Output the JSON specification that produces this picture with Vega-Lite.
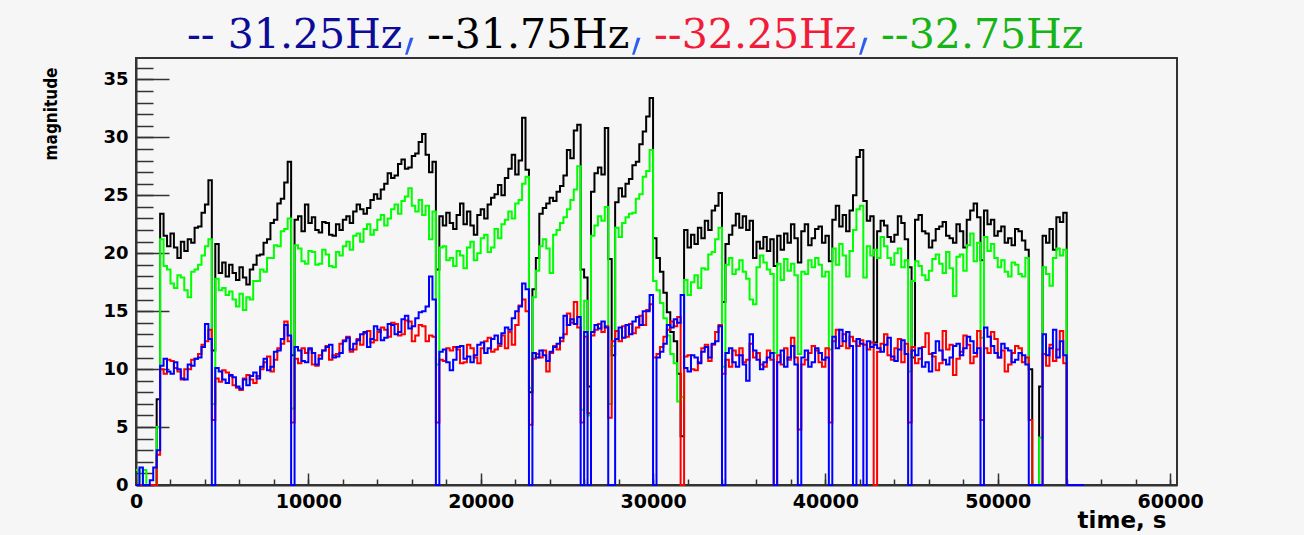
{
  "$schema": "https://vega.github.io/schema/vega-lite/v6.json",
  "description": "Magnitude of four spectral lines (31.25, 31.75, 32.25, 32.75 Hz) over time, drawn as step histograms.",
  "width": 1041,
  "height": 427,
  "autosize": {"type": "none"},
  "padding": {"left": 136, "top": 58, "right": 127, "bottom": 50},
  "background": "#f6f6f6",
  "data": {
    "values": [
      {"t": 0, "f31_25": 0, "f31_75": 0, "f32_25": 0, "f32_75": 1.3},
      {"t": 200, "f31_25": 1.5, "f31_75": 0, "f32_25": 0, "f32_75": 0},
      {"t": 400, "f31_25": 0, "f31_75": 0, "f32_25": 0, "f32_75": 1.3},
      {"t": 600, "f31_25": 0, "f31_75": 0, "f32_25": 0, "f32_75": 0},
      {"t": 800, "f31_25": 0.4, "f31_75": 0, "f32_25": 0, "f32_75": 0},
      {"t": 1000, "f31_25": 1.5, "f31_75": 0, "f32_25": 0, "f32_75": 0},
      {"t": 1200, "f31_25": 3.0, "f31_75": 7.4, "f32_25": 2.6, "f32_75": 5.0},
      {"t": 1400, "f31_25": 10.3, "f31_75": 23.4, "f32_25": 10.0, "f32_75": 21.2},
      {"t": 1600, "f31_25": 10.9, "f31_75": 21.5, "f32_25": 9.6, "f32_75": 18.9},
      {"t": 1800, "f31_25": 9.8, "f31_75": 20.6, "f32_25": 10.8, "f32_75": 18.6},
      {"t": 2000, "f31_25": 9.6, "f31_75": 21.7, "f32_25": 10.7, "f32_75": 17.4},
      {"t": 2200, "f31_25": 10.6, "f31_75": 20.5, "f32_25": 10.1, "f32_75": 17.0},
      {"t": 2400, "f31_25": 10.0, "f31_75": 19.6, "f32_25": 9.8, "f32_75": 18.1},
      {"t": 2600, "f31_25": 9.2, "f31_75": 21.0, "f32_25": 9.1, "f32_75": 17.9},
      {"t": 2800, "f31_25": 9.1, "f31_75": 20.2, "f32_25": 10.0, "f32_75": 16.8},
      {"t": 3000, "f31_25": 10.4, "f31_75": 21.2, "f32_25": 10.0, "f32_75": 16.2},
      {"t": 3200, "f31_25": 10.3, "f31_75": 20.9, "f32_25": 10.8, "f32_75": 18.4},
      {"t": 3400, "f31_25": 10.9, "f31_75": 22.2, "f32_25": 10.9, "f32_75": 18.6},
      {"t": 3600, "f31_25": 11.0, "f31_75": 22.3, "f32_25": 11.3, "f32_75": 19.0},
      {"t": 3800, "f31_25": 11.9, "f31_75": 23.5, "f32_25": 12.1, "f32_75": 19.8},
      {"t": 4000, "f31_25": 13.9, "f31_75": 24.2, "f32_25": 12.4, "f32_75": 20.6},
      {"t": 4200, "f31_25": 12.6, "f31_75": 26.3, "f32_25": 13.4, "f32_75": 21.2},
      {"t": 4400, "f31_25": 0, "f31_75": 11.6, "f32_25": 5.6, "f32_75": 7.0},
      {"t": 4600, "f31_25": 10.1, "f31_75": 20.8, "f32_25": 9.2, "f32_75": 17.8},
      {"t": 4800, "f31_25": 9.8, "f31_75": 18.3, "f32_25": 8.9, "f32_75": 16.8},
      {"t": 5000, "f31_25": 9.1, "f31_75": 19.2, "f32_25": 9.9, "f32_75": 17.0},
      {"t": 5200, "f31_25": 8.8, "f31_75": 18.0, "f32_25": 9.7, "f32_75": 16.4},
      {"t": 5400, "f31_25": 9.5, "f31_75": 19.0, "f32_25": 9.4, "f32_75": 16.7},
      {"t": 5600, "f31_25": 9.3, "f31_75": 18.3, "f32_25": 8.6, "f32_75": 16.0},
      {"t": 5800, "f31_25": 8.5, "f31_75": 17.7, "f32_25": 8.4, "f32_75": 15.4},
      {"t": 6000, "f31_25": 8.3, "f31_75": 18.8, "f32_25": 8.2, "f32_75": 16.5},
      {"t": 6200, "f31_25": 9.1, "f31_75": 17.9, "f32_25": 9.2, "f32_75": 15.1},
      {"t": 6400, "f31_25": 8.6, "f31_75": 17.3, "f32_25": 9.5, "f32_75": 16.2},
      {"t": 6600, "f31_25": 9.4, "f31_75": 18.6, "f32_25": 9.1, "f32_75": 16.0},
      {"t": 6800, "f31_25": 9.7, "f31_75": 19.0, "f32_25": 8.8, "f32_75": 17.6},
      {"t": 7000, "f31_25": 9.2, "f31_75": 19.8, "f32_25": 9.4, "f32_75": 17.6},
      {"t": 7200, "f31_25": 10.2, "f31_75": 19.9, "f32_25": 10.0, "f32_75": 18.6},
      {"t": 7400, "f31_25": 10.9, "f31_75": 20.9, "f32_25": 10.6, "f32_75": 18.4},
      {"t": 7600, "f31_25": 9.9, "f31_75": 21.2, "f32_25": 11.1, "f32_75": 19.6},
      {"t": 7800, "f31_25": 10.2, "f31_75": 22.6, "f32_25": 9.8, "f32_75": 19.6},
      {"t": 8000, "f31_25": 11.5, "f31_75": 22.9, "f32_25": 10.8, "f32_75": 20.7},
      {"t": 8200, "f31_25": 11.6, "f31_75": 24.3, "f32_25": 11.8, "f32_75": 20.6},
      {"t": 8400, "f31_25": 12.6, "f31_75": 24.7, "f32_25": 12.2, "f32_75": 21.9},
      {"t": 8600, "f31_25": 13.8, "f31_75": 26.1, "f32_25": 14.1, "f32_75": 22.1},
      {"t": 8800, "f31_25": 12.9, "f31_75": 27.9, "f32_25": 12.4, "f32_75": 23.0},
      {"t": 9000, "f31_25": 0, "f31_75": 11.2, "f32_25": 5.4, "f32_75": 6.6},
      {"t": 9200, "f31_25": 11.9, "f31_75": 22.9, "f32_25": 10.9, "f32_75": 20.7},
      {"t": 9400, "f31_25": 11.6, "f31_75": 23.2, "f32_25": 10.5, "f32_75": 20.4},
      {"t": 9600, "f31_25": 10.7, "f31_75": 21.9, "f32_25": 11.8, "f32_75": 19.3},
      {"t": 9800, "f31_25": 10.6, "f31_75": 24.2, "f32_25": 11.4, "f32_75": 19.1},
      {"t": 10000, "f31_25": 11.8, "f31_75": 22.6, "f32_25": 11.7, "f32_75": 20.2},
      {"t": 10200, "f31_25": 11.4, "f31_75": 23.1, "f32_25": 10.4, "f32_75": 20.1},
      {"t": 10400, "f31_25": 10.4, "f31_75": 22.0, "f32_25": 10.3, "f32_75": 19.0},
      {"t": 10600, "f31_25": 10.9, "f31_75": 21.8, "f32_25": 11.2, "f32_75": 19.1},
      {"t": 10800, "f31_25": 11.6, "f31_75": 22.7, "f32_25": 11.6, "f32_75": 20.3},
      {"t": 11000, "f31_25": 11.9, "f31_75": 22.6, "f32_25": 12.0, "f32_75": 19.9},
      {"t": 11200, "f31_25": 12.1, "f31_75": 21.6, "f32_25": 10.8, "f32_75": 18.9},
      {"t": 11400, "f31_25": 11.0, "f31_75": 21.5, "f32_25": 11.2, "f32_75": 18.8},
      {"t": 11600, "f31_25": 11.1, "f31_75": 22.5, "f32_25": 11.3, "f32_75": 20.1},
      {"t": 11800, "f31_25": 11.4, "f31_75": 22.0, "f32_25": 12.2, "f32_75": 19.8},
      {"t": 12000, "f31_25": 12.4, "f31_75": 22.9, "f32_25": 12.5, "f32_75": 20.6},
      {"t": 12200, "f31_25": 12.7, "f31_75": 23.2, "f32_25": 12.8, "f32_75": 21.0},
      {"t": 12400, "f31_25": 11.7, "f31_75": 22.6, "f32_25": 11.5, "f32_75": 20.3},
      {"t": 12600, "f31_25": 12.2, "f31_75": 23.6, "f32_25": 11.7, "f32_75": 21.5},
      {"t": 12800, "f31_25": 12.5, "f31_75": 24.2, "f32_25": 12.6, "f32_75": 21.7},
      {"t": 13000, "f31_25": 13.0, "f31_75": 23.8, "f32_25": 12.1, "f32_75": 21.0},
      {"t": 13200, "f31_25": 13.2, "f31_75": 23.4, "f32_25": 13.1, "f32_75": 22.1},
      {"t": 13400, "f31_25": 11.9, "f31_75": 23.9, "f32_25": 13.3, "f32_75": 22.5},
      {"t": 13600, "f31_25": 12.6, "f31_75": 24.6, "f32_25": 12.3, "f32_75": 21.6},
      {"t": 13800, "f31_25": 13.7, "f31_75": 25.1, "f32_25": 12.5, "f32_75": 22.0},
      {"t": 14000, "f31_25": 13.4, "f31_75": 24.7, "f32_25": 13.2, "f32_75": 22.9},
      {"t": 14200, "f31_25": 12.5, "f31_75": 25.5, "f32_25": 13.6, "f32_75": 23.3},
      {"t": 14400, "f31_25": 12.7, "f31_75": 26.0, "f32_25": 13.4, "f32_75": 22.4},
      {"t": 14600, "f31_25": 13.9, "f31_75": 26.9, "f32_25": 12.8, "f32_75": 23.0},
      {"t": 14800, "f31_25": 13.8, "f31_75": 26.5, "f32_25": 14.0, "f32_75": 23.8},
      {"t": 15000, "f31_25": 13.0, "f31_75": 26.7, "f32_25": 13.9, "f32_75": 24.2},
      {"t": 15200, "f31_25": 13.2, "f31_75": 27.7, "f32_25": 12.9, "f32_75": 23.4},
      {"t": 15400, "f31_25": 14.3, "f31_75": 28.1, "f32_25": 13.0, "f32_75": 24.5},
      {"t": 15600, "f31_25": 14.6, "f31_75": 27.3, "f32_25": 14.2, "f32_75": 24.9},
      {"t": 15800, "f31_25": 13.5, "f31_75": 27.4, "f32_25": 14.1, "f32_75": 25.6},
      {"t": 16000, "f31_25": 13.7, "f31_75": 28.4, "f32_25": 12.4, "f32_75": 24.1},
      {"t": 16200, "f31_25": 14.4, "f31_75": 28.6, "f32_25": 12.9, "f32_75": 23.6},
      {"t": 16400, "f31_25": 14.9, "f31_75": 29.6, "f32_25": 13.8, "f32_75": 24.6},
      {"t": 16600, "f31_25": 15.0, "f31_75": 30.3, "f32_25": 13.7, "f32_75": 23.3},
      {"t": 16800, "f31_25": 15.4, "f31_75": 28.5, "f32_25": 12.4, "f32_75": 24.1},
      {"t": 17000, "f31_25": 18.0, "f31_75": 27.0, "f32_25": 12.9, "f32_75": 21.2},
      {"t": 17200, "f31_25": 16.0, "f31_75": 27.9, "f32_25": 12.8, "f32_75": 23.6},
      {"t": 17400, "f31_25": 0, "f31_75": 18.6, "f32_25": 5.4, "f32_75": 10.4},
      {"t": 17600, "f31_25": 11.5, "f31_75": 23.2, "f32_25": 10.8, "f32_75": 20.5},
      {"t": 17800, "f31_25": 11.7, "f31_75": 22.4, "f32_25": 10.7, "f32_75": 20.6},
      {"t": 18000, "f31_25": 10.6, "f31_75": 23.5, "f32_25": 11.8, "f32_75": 19.4},
      {"t": 18200, "f31_25": 9.9, "f31_75": 22.6, "f32_25": 11.6, "f32_75": 19.6},
      {"t": 18400, "f31_25": 10.8, "f31_75": 22.1, "f32_25": 11.9, "f32_75": 18.9},
      {"t": 18600, "f31_25": 11.9, "f31_75": 23.3, "f32_25": 11.7, "f32_75": 20.2},
      {"t": 18800, "f31_25": 12.0, "f31_75": 24.3, "f32_25": 10.5, "f32_75": 19.8},
      {"t": 19000, "f31_25": 10.9, "f31_75": 22.5, "f32_25": 10.6, "f32_75": 18.7},
      {"t": 19200, "f31_25": 11.1, "f31_75": 23.6, "f32_25": 12.1, "f32_75": 20.5},
      {"t": 19400, "f31_25": 10.6, "f31_75": 22.4, "f32_25": 11.8, "f32_75": 21.0},
      {"t": 19600, "f31_25": 11.2, "f31_75": 21.6, "f32_25": 11.0, "f32_75": 19.4},
      {"t": 19800, "f31_25": 12.1, "f31_75": 23.3, "f32_25": 10.5, "f32_75": 20.0},
      {"t": 20000, "f31_25": 12.3, "f31_75": 23.8, "f32_25": 11.8, "f32_75": 21.3},
      {"t": 20200, "f31_25": 11.4, "f31_75": 23.0, "f32_25": 12.4, "f32_75": 21.6},
      {"t": 20400, "f31_25": 11.8, "f31_75": 24.2, "f32_25": 12.7, "f32_75": 20.1},
      {"t": 20600, "f31_25": 12.6, "f31_75": 24.8, "f32_25": 11.5, "f32_75": 20.5},
      {"t": 20800, "f31_25": 12.9, "f31_75": 25.1, "f32_25": 11.7, "f32_75": 22.1},
      {"t": 21000, "f31_25": 12.2, "f31_75": 25.9, "f32_25": 12.0, "f32_75": 21.3},
      {"t": 21200, "f31_25": 13.1, "f31_75": 25.0, "f32_25": 12.9, "f32_75": 22.5},
      {"t": 21400, "f31_25": 13.6, "f31_75": 26.5, "f32_25": 11.8, "f32_75": 22.9},
      {"t": 21600, "f31_25": 13.4, "f31_75": 27.3, "f32_25": 13.2, "f32_75": 23.6},
      {"t": 21800, "f31_25": 14.4, "f31_75": 28.5, "f32_25": 12.1, "f32_75": 23.0},
      {"t": 22000, "f31_25": 15.0, "f31_75": 26.8, "f32_25": 13.8, "f32_75": 24.3},
      {"t": 22200, "f31_25": 15.4, "f31_75": 28.0, "f32_25": 15.5, "f32_75": 24.6},
      {"t": 22400, "f31_25": 17.4, "f31_75": 31.7, "f32_25": 16.0, "f32_75": 26.0},
      {"t": 22600, "f31_25": 16.9, "f31_75": 27.2, "f32_25": 15.0, "f32_75": 26.6},
      {"t": 22800, "f31_25": 0, "f31_75": 8.0, "f32_25": 5.2, "f32_75": 8.4},
      {"t": 23000, "f31_25": 11.4, "f31_75": 16.9, "f32_25": 10.9, "f32_75": 16.2},
      {"t": 23200, "f31_25": 11.0, "f31_75": 19.6, "f32_25": 11.3, "f32_75": 18.5},
      {"t": 23400, "f31_25": 11.6, "f31_75": 23.4, "f32_25": 11.0, "f32_75": 20.6},
      {"t": 23600, "f31_25": 11.2, "f31_75": 23.9, "f32_25": 11.6, "f32_75": 21.2},
      {"t": 23800, "f31_25": 10.7, "f31_75": 24.3, "f32_25": 9.8, "f32_75": 20.4},
      {"t": 24000, "f31_25": 11.5, "f31_75": 24.8, "f32_25": 11.4, "f32_75": 18.3},
      {"t": 24200, "f31_25": 11.9, "f31_75": 24.5, "f32_25": 12.0, "f32_75": 21.6},
      {"t": 24400, "f31_25": 12.2, "f31_75": 25.3, "f32_25": 11.7, "f32_75": 22.0},
      {"t": 24600, "f31_25": 12.7, "f31_75": 25.8, "f32_25": 12.4, "f32_75": 22.6},
      {"t": 24800, "f31_25": 14.6, "f31_75": 26.7, "f32_25": 13.0, "f32_75": 23.1},
      {"t": 25000, "f31_25": 13.8, "f31_75": 28.9, "f32_25": 14.8, "f32_75": 23.8},
      {"t": 25200, "f31_25": 14.3, "f31_75": 28.2, "f32_25": 14.0, "f32_75": 24.6},
      {"t": 25400, "f31_25": 13.9, "f31_75": 30.6, "f32_25": 15.8, "f32_75": 25.5},
      {"t": 25600, "f31_25": 14.5, "f31_75": 31.1, "f32_25": 13.6, "f32_75": 27.5},
      {"t": 25800, "f31_25": 0, "f31_75": 18.6, "f32_25": 5.4, "f32_75": 6.5},
      {"t": 26000, "f31_25": 13.2, "f31_75": 17.9, "f32_25": 12.8, "f32_75": 15.9},
      {"t": 26200, "f31_25": 0, "f31_75": 8.5, "f32_25": 6.2, "f32_75": 6.0},
      {"t": 26400, "f31_25": 13.2, "f31_75": 25.3, "f32_25": 12.9, "f32_75": 21.5},
      {"t": 26600, "f31_25": 13.8, "f31_75": 26.9, "f32_25": 13.4, "f32_75": 22.4},
      {"t": 26800, "f31_25": 13.5, "f31_75": 27.4, "f32_25": 13.9, "f32_75": 23.2},
      {"t": 27000, "f31_25": 14.1, "f31_75": 26.8, "f32_25": 13.2, "f32_75": 22.8},
      {"t": 27200, "f31_25": 13.6, "f31_75": 30.8, "f32_25": 13.7, "f32_75": 24.0},
      {"t": 27400, "f31_25": 0, "f31_75": 19.5, "f32_25": 5.8, "f32_75": 7.0},
      {"t": 27600, "f31_25": 0, "f31_75": 11.2, "f32_25": 12.4, "f32_75": 12.0},
      {"t": 27800, "f31_25": 12.6, "f31_75": 24.4, "f32_25": 13.3, "f32_75": 22.2},
      {"t": 28000, "f31_25": 13.6, "f31_75": 25.6, "f32_25": 12.4, "f32_75": 21.4},
      {"t": 28200, "f31_25": 12.7, "f31_75": 24.9, "f32_25": 13.7, "f32_75": 22.6},
      {"t": 28400, "f31_25": 13.8, "f31_75": 26.0, "f32_25": 12.8, "f32_75": 23.1},
      {"t": 28600, "f31_25": 13.0, "f31_75": 26.4, "f32_25": 13.9, "f32_75": 23.4},
      {"t": 28800, "f31_25": 14.1, "f31_75": 27.6, "f32_25": 13.1, "f32_75": 23.5},
      {"t": 29000, "f31_25": 14.5, "f31_75": 27.9, "f32_25": 13.6, "f32_75": 24.7},
      {"t": 29200, "f31_25": 13.8, "f31_75": 29.4, "f32_25": 14.6, "f32_75": 25.1},
      {"t": 29400, "f31_25": 15.0, "f31_75": 30.5, "f32_25": 13.8, "f32_75": 26.6},
      {"t": 29600, "f31_25": 15.0, "f31_75": 31.8, "f32_25": 15.1, "f32_75": 27.1},
      {"t": 29800, "f31_25": 16.4, "f31_75": 33.4, "f32_25": 15.6, "f32_75": 28.9},
      {"t": 30000, "f31_25": 0, "f31_75": 21.3, "f32_25": 11.0, "f32_75": 17.6},
      {"t": 30200, "f31_25": 11.0, "f31_75": 19.6, "f32_25": 11.3, "f32_75": 16.8},
      {"t": 30400, "f31_25": 11.5, "f31_75": 18.4, "f32_25": 11.9, "f32_75": 15.7},
      {"t": 30600, "f31_25": 12.2, "f31_75": 16.6, "f32_25": 12.8, "f32_75": 14.4},
      {"t": 30800, "f31_25": 13.8, "f31_75": 14.9, "f32_25": 13.4, "f32_75": 12.9},
      {"t": 31000, "f31_25": 13.6, "f31_75": 13.2, "f32_25": 14.1, "f32_75": 11.3},
      {"t": 31200, "f31_25": 14.3, "f31_75": 12.4, "f32_25": 13.7, "f32_75": 10.5},
      {"t": 31400, "f31_25": 14.0, "f31_75": 9.6, "f32_25": 14.5, "f32_75": 7.2},
      {"t": 31600, "f31_25": 16.4, "f31_75": 4.2, "f32_25": 0, "f32_75": 7.6},
      {"t": 31800, "f31_25": 10.1, "f31_75": 22.0, "f32_25": 11.1, "f32_75": 17.7},
      {"t": 32000, "f31_25": 9.8, "f31_75": 20.5, "f32_25": 11.2, "f32_75": 16.4},
      {"t": 32200, "f31_25": 11.2, "f31_75": 21.6, "f32_25": 10.0, "f32_75": 17.5},
      {"t": 32400, "f31_25": 11.0, "f31_75": 20.8, "f32_25": 9.9, "f32_75": 18.1},
      {"t": 32600, "f31_25": 10.5, "f31_75": 22.2, "f32_25": 10.6, "f32_75": 17.0},
      {"t": 32800, "f31_25": 11.5, "f31_75": 21.3, "f32_25": 11.8, "f32_75": 18.7},
      {"t": 33000, "f31_25": 11.9, "f31_75": 22.8, "f32_25": 12.1, "f32_75": 18.6},
      {"t": 33200, "f31_25": 11.0, "f31_75": 22.0, "f32_25": 10.7, "f32_75": 19.9},
      {"t": 33400, "f31_25": 12.2, "f31_75": 23.7, "f32_25": 12.1, "f32_75": 20.1},
      {"t": 33600, "f31_25": 12.4, "f31_75": 24.1, "f32_25": 13.2, "f32_75": 21.2},
      {"t": 33800, "f31_25": 13.7, "f31_75": 25.2, "f32_25": 13.8, "f32_75": 22.2},
      {"t": 34000, "f31_25": 0, "f31_75": 15.8, "f32_25": 9.6, "f32_75": 10.2},
      {"t": 34200, "f31_25": 11.4, "f31_75": 20.8, "f32_25": 10.8, "f32_75": 19.0},
      {"t": 34400, "f31_25": 11.8, "f31_75": 21.6, "f32_25": 10.2, "f32_75": 19.6},
      {"t": 34600, "f31_25": 10.6, "f31_75": 22.4, "f32_25": 11.6, "f32_75": 18.2},
      {"t": 34800, "f31_25": 10.2, "f31_75": 23.4, "f32_25": 11.2, "f32_75": 18.6},
      {"t": 35000, "f31_25": 11.2, "f31_75": 22.2, "f32_25": 11.8, "f32_75": 19.4},
      {"t": 35200, "f31_25": 10.4, "f31_75": 23.2, "f32_25": 10.6, "f32_75": 18.4},
      {"t": 35400, "f31_25": 9.0, "f31_75": 22.0, "f32_25": 10.8, "f32_75": 17.8},
      {"t": 35600, "f31_25": 13.0, "f31_75": 22.8, "f32_25": 12.2, "f32_75": 16.0},
      {"t": 35800, "f31_25": 11.6, "f31_75": 19.6, "f32_25": 11.0, "f32_75": 15.6},
      {"t": 36000, "f31_25": 10.8, "f31_75": 21.0, "f32_25": 11.4, "f32_75": 18.8},
      {"t": 36200, "f31_25": 10.0, "f31_75": 20.4, "f32_25": 10.4, "f32_75": 19.8},
      {"t": 36400, "f31_25": 10.6, "f31_75": 21.4, "f32_25": 10.2, "f32_75": 19.2},
      {"t": 36600, "f31_25": 11.0, "f31_75": 20.2, "f32_25": 11.6, "f32_75": 18.6},
      {"t": 36800, "f31_25": 11.4, "f31_75": 21.2, "f32_25": 10.8, "f32_75": 18.2},
      {"t": 37000, "f31_25": 0, "f31_75": 18.9, "f32_25": 0, "f32_75": 11.4},
      {"t": 37200, "f31_25": 10.6, "f31_75": 21.5, "f32_25": 11.2, "f32_75": 19.1},
      {"t": 37400, "f31_25": 11.6, "f31_75": 20.3, "f32_25": 10.4, "f32_75": 17.7},
      {"t": 37600, "f31_25": 10.2, "f31_75": 21.7, "f32_25": 11.8, "f32_75": 19.5},
      {"t": 37800, "f31_25": 11.0, "f31_75": 20.9, "f32_25": 10.8, "f32_75": 18.5},
      {"t": 38000, "f31_25": 12.0, "f31_75": 22.5, "f32_25": 12.7, "f32_75": 19.1},
      {"t": 38200, "f31_25": 10.4, "f31_75": 21.3, "f32_25": 11.0, "f32_75": 18.1},
      {"t": 38400, "f31_25": 0, "f31_75": 19.2, "f32_25": 4.8, "f32_75": 11.3},
      {"t": 38600, "f31_25": 11.0, "f31_75": 21.9, "f32_25": 10.4, "f32_75": 18.4},
      {"t": 38800, "f31_25": 11.6, "f31_75": 22.5, "f32_25": 10.8, "f32_75": 18.2},
      {"t": 39000, "f31_25": 10.2, "f31_75": 20.7, "f32_25": 11.4, "f32_75": 19.4},
      {"t": 39200, "f31_25": 10.6, "f31_75": 21.3, "f32_25": 12.0, "f32_75": 18.8},
      {"t": 39400, "f31_25": 11.8, "f31_75": 22.1, "f32_25": 11.6, "f32_75": 19.6},
      {"t": 39600, "f31_25": 11.4, "f31_75": 22.3, "f32_25": 10.6, "f32_75": 19.0},
      {"t": 39800, "f31_25": 10.8, "f31_75": 20.9, "f32_25": 10.2, "f32_75": 18.0},
      {"t": 40000, "f31_25": 11.0, "f31_75": 21.5, "f32_25": 11.8, "f32_75": 18.4},
      {"t": 40200, "f31_25": 0, "f31_75": 19.3, "f32_25": 5.4, "f32_75": 11.7},
      {"t": 40400, "f31_25": 12.8, "f31_75": 22.9, "f32_25": 12.4, "f32_75": 20.4},
      {"t": 40600, "f31_25": 11.8, "f31_75": 24.1, "f32_25": 13.4, "f32_75": 19.0},
      {"t": 40800, "f31_25": 13.4, "f31_75": 22.3, "f32_25": 12.0, "f32_75": 20.8},
      {"t": 41000, "f31_25": 12.4, "f31_75": 23.3, "f32_25": 13.0, "f32_75": 19.8},
      {"t": 41200, "f31_25": 13.2, "f31_75": 21.9, "f32_25": 11.8, "f32_75": 18.0},
      {"t": 41400, "f31_25": 12.0, "f31_75": 23.7, "f32_25": 12.8, "f32_75": 20.2},
      {"t": 41600, "f31_25": 0, "f31_75": 25.0, "f32_25": 12.4, "f32_75": 22.0},
      {"t": 41800, "f31_25": 12.6, "f31_75": 28.3, "f32_25": 12.0, "f32_75": 23.8},
      {"t": 42000, "f31_25": 12.2, "f31_75": 28.9, "f32_25": 12.5, "f32_75": 24.1},
      {"t": 42200, "f31_25": 0, "f31_75": 24.5, "f32_25": 12.1, "f32_75": 17.9},
      {"t": 42400, "f31_25": 12.4, "f31_75": 22.8, "f32_25": 11.7, "f32_75": 20.6},
      {"t": 42600, "f31_25": 11.9, "f31_75": 23.2, "f32_25": 12.3, "f32_75": 19.8},
      {"t": 42800, "f31_25": 12.1, "f31_75": 12.3, "f32_25": 0, "f32_75": 20.3},
      {"t": 43000, "f31_25": 11.8, "f31_75": 21.9, "f32_25": 11.5, "f32_75": 19.6},
      {"t": 43200, "f31_25": 11.5, "f31_75": 22.8, "f32_25": 12.2, "f32_75": 21.4},
      {"t": 43400, "f31_25": 12.1, "f31_75": 22.4, "f32_25": 13.0, "f32_75": 20.6},
      {"t": 43600, "f31_25": 12.7, "f31_75": 21.4, "f32_25": 11.2, "f32_75": 19.6},
      {"t": 43800, "f31_25": 11.1, "f31_75": 21.0, "f32_25": 10.8, "f32_75": 19.0},
      {"t": 44000, "f31_25": 10.7, "f31_75": 21.6, "f32_25": 11.8, "f32_75": 20.0},
      {"t": 44200, "f31_25": 11.7, "f31_75": 23.2, "f32_25": 12.6, "f32_75": 20.4},
      {"t": 44400, "f31_25": 12.5, "f31_75": 22.6, "f32_25": 10.6, "f32_75": 18.8},
      {"t": 44600, "f31_25": 11.3, "f31_75": 21.2, "f32_25": 12.2, "f32_75": 19.4},
      {"t": 44800, "f31_25": 0, "f31_75": 18.8, "f32_25": 5.4, "f32_75": 9.8},
      {"t": 45000, "f31_25": 11.6, "f31_75": 11.0, "f32_25": 11.9, "f32_75": 17.6},
      {"t": 45200, "f31_25": 11.2, "f31_75": 22.9, "f32_25": 10.5, "f32_75": 19.3},
      {"t": 45400, "f31_25": 11.8, "f31_75": 23.3, "f32_25": 10.9, "f32_75": 18.9},
      {"t": 45600, "f31_25": 10.2, "f31_75": 21.9, "f32_25": 11.9, "f32_75": 18.1},
      {"t": 45800, "f31_25": 10.6, "f31_75": 21.7, "f32_25": 13.1, "f32_75": 17.7},
      {"t": 46000, "f31_25": 9.8, "f31_75": 20.5, "f32_25": 11.3, "f32_75": 18.5},
      {"t": 46200, "f31_25": 11.4, "f31_75": 21.1, "f32_25": 11.1, "f32_75": 19.5},
      {"t": 46400, "f31_25": 12.4, "f31_75": 22.1, "f32_25": 9.9, "f32_75": 19.9},
      {"t": 46600, "f31_25": 11.6, "f31_75": 22.3, "f32_25": 10.5, "f32_75": 19.1},
      {"t": 46800, "f31_25": 10.8, "f31_75": 22.7, "f32_25": 13.3, "f32_75": 18.3},
      {"t": 47000, "f31_25": 10.4, "f31_75": 21.5, "f32_25": 11.7, "f32_75": 20.1},
      {"t": 47200, "f31_25": 11.0, "f31_75": 21.3, "f32_25": 12.1, "f32_75": 18.7},
      {"t": 47400, "f31_25": 12.0, "f31_75": 20.9, "f32_25": 9.5, "f32_75": 16.3},
      {"t": 47600, "f31_25": 12.2, "f31_75": 22.5, "f32_25": 10.9, "f32_75": 19.7},
      {"t": 47800, "f31_25": 11.2, "f31_75": 21.9, "f32_25": 11.5, "f32_75": 19.9},
      {"t": 48000, "f31_25": 11.8, "f31_75": 20.5, "f32_25": 12.9, "f32_75": 18.5},
      {"t": 48200, "f31_25": 12.8, "f31_75": 22.9, "f32_25": 12.1, "f32_75": 20.7},
      {"t": 48400, "f31_25": 12.4, "f31_75": 23.7, "f32_25": 10.5, "f32_75": 21.7},
      {"t": 48600, "f31_25": 11.4, "f31_75": 24.3, "f32_25": 11.1, "f32_75": 19.3},
      {"t": 48800, "f31_25": 11.8, "f31_75": 23.1, "f32_25": 13.3, "f32_75": 20.9},
      {"t": 49000, "f31_25": 0, "f31_75": 19.4, "f32_25": 5.6, "f32_75": 12.7},
      {"t": 49200, "f31_25": 13.6, "f31_75": 23.7, "f32_25": 11.8, "f32_75": 21.4},
      {"t": 49400, "f31_25": 12.8, "f31_75": 22.5, "f32_25": 11.4, "f32_75": 20.2},
      {"t": 49600, "f31_25": 12.0, "f31_75": 22.9, "f32_25": 13.2, "f32_75": 20.8},
      {"t": 49800, "f31_25": 11.4, "f31_75": 21.5, "f32_25": 12.6, "f32_75": 19.6},
      {"t": 50000, "f31_25": 11.0, "f31_75": 21.9, "f32_25": 11.0, "f32_75": 18.8},
      {"t": 50200, "f31_25": 12.2, "f31_75": 22.3, "f32_25": 11.6, "f32_75": 19.4},
      {"t": 50400, "f31_25": 11.8, "f31_75": 20.9, "f32_25": 9.8, "f32_75": 18.4},
      {"t": 50600, "f31_25": 11.6, "f31_75": 21.3, "f32_25": 10.4, "f32_75": 18.0},
      {"t": 50800, "f31_25": 10.6, "f31_75": 20.7, "f32_25": 11.4, "f32_75": 19.2},
      {"t": 51000, "f31_25": 10.8, "f31_75": 22.1, "f32_25": 12.0, "f32_75": 19.0},
      {"t": 51200, "f31_25": 11.4, "f31_75": 21.9, "f32_25": 11.8, "f32_75": 18.2},
      {"t": 51400, "f31_25": 11.2, "f31_75": 21.1, "f32_25": 10.6, "f32_75": 18.0},
      {"t": 51600, "f31_25": 10.4, "f31_75": 20.3, "f32_25": 11.0, "f32_75": 19.6},
      {"t": 51800, "f31_25": 0, "f31_75": 10.0, "f32_25": 5.6, "f32_75": 5.6},
      {"t": 52000, "f31_25": 0, "f31_75": 0, "f32_25": 0, "f32_75": 0},
      {"t": 52200, "f31_25": 0, "f31_75": 0, "f32_25": 0, "f32_75": 0},
      {"t": 52400, "f31_25": 0, "f31_75": 8.5, "f32_25": 0, "f32_75": 4.1},
      {"t": 52600, "f31_25": 13.0, "f31_75": 21.5, "f32_25": 11.3, "f32_75": 18.8},
      {"t": 52800, "f31_25": 11.2, "f31_75": 20.9, "f32_25": 10.3, "f32_75": 18.2},
      {"t": 53000, "f31_25": 11.8, "f31_75": 22.1, "f32_25": 12.1, "f32_75": 17.2},
      {"t": 53200, "f31_25": 13.4, "f31_75": 20.3, "f32_25": 10.7, "f32_75": 19.6},
      {"t": 53400, "f31_25": 11.0, "f31_75": 23.1, "f32_25": 11.7, "f32_75": 20.4},
      {"t": 53600, "f31_25": 12.4, "f31_75": 22.7, "f32_25": 13.3, "f32_75": 19.8},
      {"t": 53800, "f31_25": 11.2, "f31_75": 23.5, "f32_25": 10.5, "f32_75": 20.3},
      {"t": 54000, "f31_25": 0, "f31_75": 0, "f32_25": 0, "f32_75": 0},
      {"t": 54200, "f31_25": 0, "f31_75": 0, "f32_25": 0, "f32_75": 0},
      {"t": 54400, "f31_25": 0, "f31_75": 0, "f32_25": 0, "f32_75": 0},
      {"t": 54600, "f31_25": 0, "f31_75": 0, "f32_25": 0, "f32_75": 0},
      {"t": 54800, "f31_25": 0, "f31_75": 0, "f32_25": 0, "f32_75": 0},
      {"t": 55000, "f31_25": 0, "f31_75": 0, "f32_25": 0, "f32_75": 0}
    ]
  },
  "transform": [
    {"fold": ["f31_25", "f31_75", "f32_25", "f32_75"], "as": ["series", "magnitude"]}
  ],
  "encoding": {
    "color": {
      "field": "series",
      "type": "nominal",
      "scale": {
        "domain": ["f31_25", "f31_75", "f32_25", "f32_75"],
        "range": ["#0000ff", "#000000", "#ff0000", "#00ff00"]
      },
      "legend": {
        "orient": "none",
        "legendX": 27,
        "legendY": -31,
        "direction": "horizontal",
        "title": null,
        "symbolType": "M -1.35 -1.0 L -1.0 -1.0 L -1.6 0.7 L -1.85 0.7 Z",
        "symbolSize": 400,
        "symbolStrokeWidth": 0,
        "symbolFillColor": "#2f5cf0",
        "labelOffset": -17,
        "columnPadding": 0,
        "labelFont": "DejaVu Serif",
        "labelFontSize": 41,
        "labelBaseline": "alphabetic",
        "labelLimit": 600,
        "labelExpr": "datum.value === 'f31_25' ? '-- 31.25Hz' : datum.value === 'f31_75' ? '--31.75Hz' : datum.value === 'f32_25' ? '--32.25Hz' : '--32.75Hz'",
        "encode": {
          "labels": {
            "update": {
              "fill": {"signal": "datum.value === 'f31_25' ? '#0c0c98' : datum.value === 'f31_75' ? '#000000' : datum.value === 'f32_25' ? '#f01c3a' : '#17b317'"}
            }
          },
          "symbols": {
            "update": {
              "fill": {"value": "#2f5cf0"},
              "stroke": {"value": "transparent"},
              "opacity": {"signal": "datum.index === 0 ? 0 : 1"}
            }
          }
        }
      }
    }
  },
  "layer": [
    {
      "transform": [{"filter": {"field": "series", "equal": "f31_75"}}],
      "mark": {"type": "line", "interpolate": "step-after", "strokeWidth": 2},
      "encoding": {
        "x": {
          "field": "t", "type": "quantitative",
          "scale": {"domain": [0, 60400], "nice": false, "zero": false},
          "axis": {
            "orient": "bottom",
            "values": [0, 10000, 20000, 30000, 40000, 50000, 60000],
            "format": "d",
            "ticks": false,
            "tickSize": 0,
            "labelPadding": 7,
            "labelFontSize": 19,
            "labelFlush": false,
            "labelOverlap": false,
            "title": "time, s",
            "titleFont": "DejaVu Sans",
            "titleFontWeight": "bold",
            "titleFontSize": 23,
            "titleColor": "#000000",
            "titleAlign": "right",
            "titleBaseline": "alphabetic",
            "titleX": 1030,
            "titleY": 42
          }
        },
        "y": {
          "field": "magnitude", "type": "quantitative",
          "scale": {"domain": [0, 36.85], "nice": false, "zero": false},
          "axis": {
            "orient": "left",
            "values": [0, 5, 10, 15, 20, 25, 30, 35],
            "ticks": false,
            "tickSize": 0,
            "labelPadding": 8,
            "labelFontSize": 18,
            "title": "magnitude",
            "titleFont": "DejaVu Sans Condensed, DejaVu Sans, sans-serif",
            "titleFontWeight": "bold",
            "titleFontSize": 17,
            "titleColor": "#000000",
            "titleAngle": -90,
            "titleAlign": "right",
            "titleBaseline": "alphabetic",
            "titleX": -80,
            "titleY": 9
          }
        }
      }
    },
    {
      "transform": [{"filter": {"field": "series", "equal": "f32_75"}}],
      "mark": {"type": "line", "interpolate": "step-after", "strokeWidth": 2},
      "encoding": {
        "x": {
          "field": "t", "type": "quantitative",
          "axis": {
            "orient": "bottom",
            "values": [0, 10000, 20000, 30000, 40000, 50000, 60000],
            "labels": false, "domain": false, "tickSize": -12, "title": null
          }
        },
        "y": {
          "field": "magnitude", "type": "quantitative",
          "axis": {
            "orient": "left",
            "values": [0, 5, 10, 15, 20, 25, 30, 35],
            "labels": false, "domain": false, "tickSize": -33, "title": null
          }
        }
      }
    },
    {
      "transform": [{"filter": {"field": "series", "equal": "f32_25"}}],
      "mark": {"type": "line", "interpolate": "step-after", "strokeWidth": 2},
      "encoding": {
        "x": {
          "field": "t", "type": "quantitative",
          "axis": {
            "orient": "bottom",
            "values": [0, 2000, 4000, 6000, 8000, 10000, 12000, 14000, 16000, 18000, 20000, 22000, 24000, 26000, 28000, 30000, 32000, 34000, 36000, 38000, 40000, 42000, 44000, 46000, 48000, 50000, 52000, 54000, 56000, 58000, 60000],
            "labels": false, "domain": false, "tickSize": -6, "title": null
          }
        },
        "y": {
          "field": "magnitude", "type": "quantitative",
          "axis": {
            "orient": "left",
            "values": [0, 1, 2, 3, 4, 5, 6, 7, 8, 9, 10, 11, 12, 13, 14, 15, 16, 17, 18, 19, 20, 21, 22, 23, 24, 25, 26, 27, 28, 29, 30, 31, 32, 33, 34, 35, 36],
            "labels": false, "domain": false, "tickSize": -17, "title": null
          }
        }
      }
    },
    {
      "transform": [{"filter": {"field": "series", "equal": "f31_25"}}],
      "mark": {"type": "line", "interpolate": "step-after", "strokeWidth": 2},
      "encoding": {
        "x": {"field": "t", "type": "quantitative", "axis": null},
        "y": {"field": "magnitude", "type": "quantitative", "axis": null}
      }
    }
  ],
  "resolve": {"axis": {"x": "independent", "y": "independent"}},
  "config": {
    "view": {"stroke": "#333333", "strokeWidth": 2, "fill": "#f6f6f6"},
    "axis": {
      "grid": false,
      "domainColor": "#333333",
      "domainWidth": 2,
      "tickColor": "#333333",
      "tickWidth": 1.5,
      "labelFont": "DejaVu Sans",
      "labelFontWeight": "bold",
      "labelColor": "#000000"
    }
  }
}
